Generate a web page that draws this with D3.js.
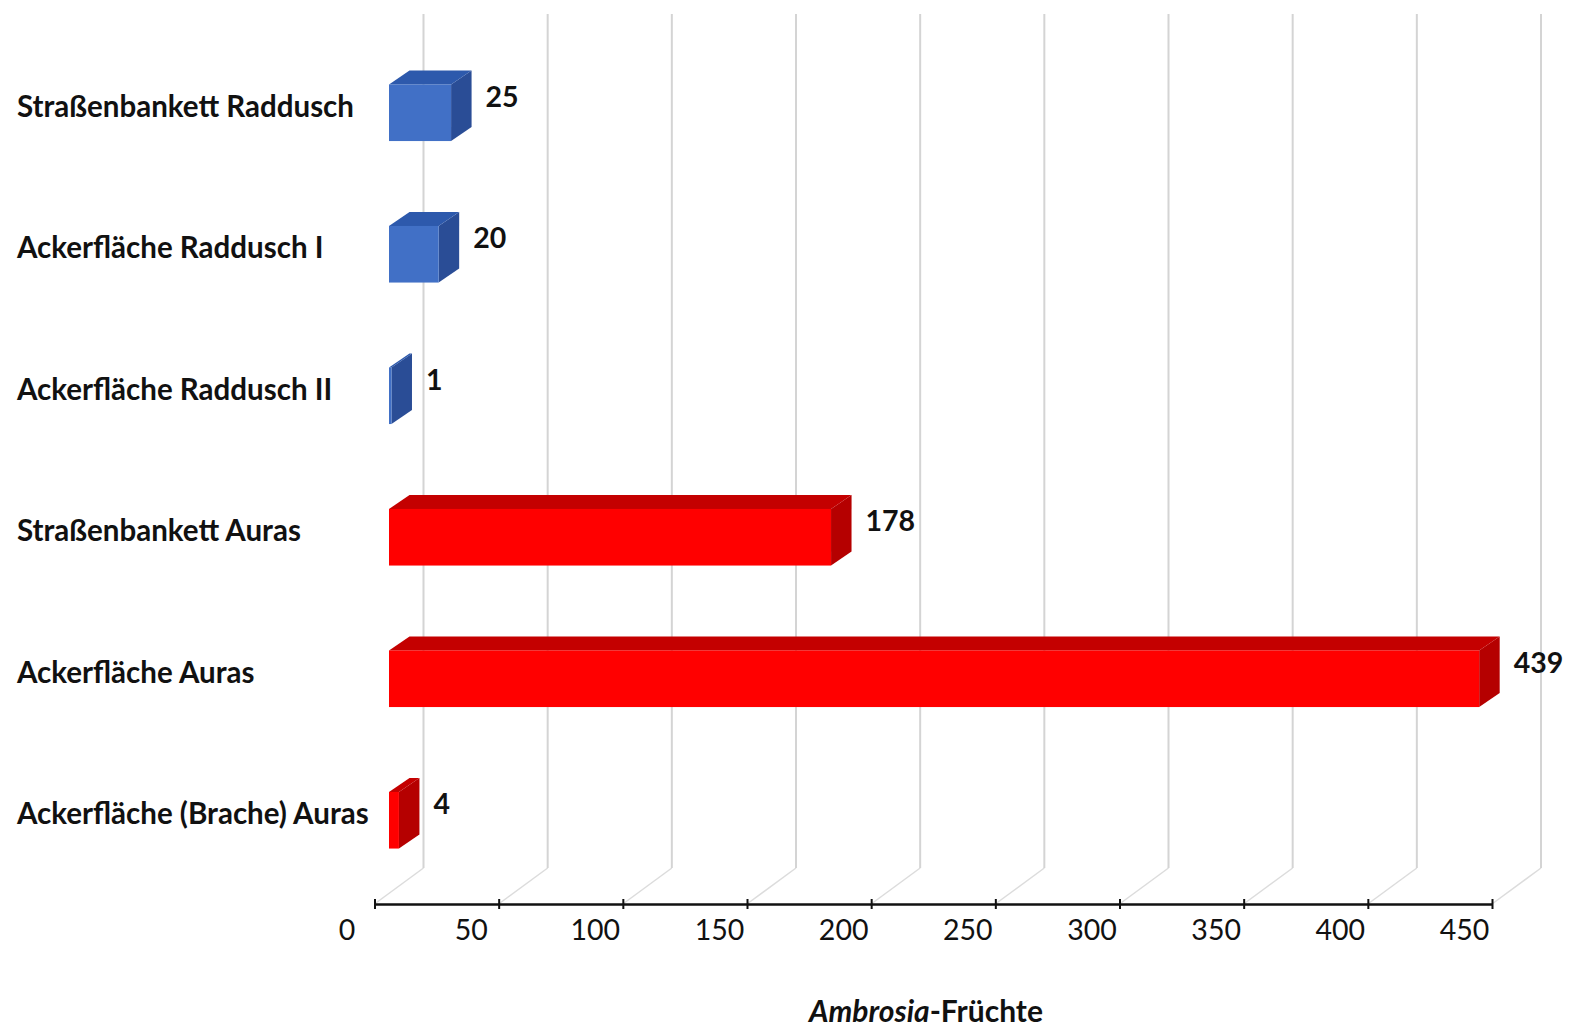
<!DOCTYPE html>
<html>
<head>
<meta charset="utf-8">
<script src="https://cdn.jsdelivr.net/npm/d3@7"></script>
<style>
  html, body { margin: 0; padding: 0; background: #ffffff; }
  svg { display: block; }
  text { font-family: Lato, "Open Sans", sans-serif; fill: #111111; }
</style>
</head>
<body>
<svg id="chart" width="1579" height="1027"></svg>
<script>
// ---- data ----
const categories = [
  "Straßenbankett Raddusch",
  "Ackerfläche Raddusch I",
  "Ackerfläche Raddusch II",
  "Straßenbankett Auras",
  "Ackerfläche Auras",
  "Ackerfläche (Brache) Auras"
];
const values = [25, 20, 1, 178, 439, 4];
const sites = ["Raddusch", "Raddusch", "Raddusch", "Auras", "Auras", "Auras"];
const xTicks = [0, 50, 100, 150, 200, 250, 300, 350, 400, 450];
const axisTitleItalic = "Ambrosia";
const axisTitleRest = "-Früchte";

// ---- styles ----
const faceColors = {
  Raddusch: { front: "#4170C6", top: "#2D59AC", side: "#2A4D96" },
  Auras:    { front: "#FF0000", top: "#C40000", side: "#B50000" }
};

const svg = d3.select("#chart");

// front-plane geometry
const axisY = 904;
const x = d3.scaleLinear().domain([0, 450]).range([374.5, 1492]);
const y = d3.scaleBand().domain(categories).range([52, 901])
  .paddingInner(0.6).paddingOuter(0.3);

// depth vectors
const wall = { dx: 49, dy: -36 };
const barFront = { dx: 14.5, dy: -10 };
const barBack = { dx: 35, dy: -24 };
const wallTop = 14;

// ---- gridlines: floor diagonals + back wall verticals ----
const grid = svg.append("g").attr("class", "grid");
grid.selectAll("path.floor")
  .data(xTicks)
  .join("path")
  .attr("class", "floor")
  .attr("d", d => `M${x(d)},${axisY}L${x(d) + wall.dx},${axisY + wall.dy}`)
  .attr("stroke", "#dcdcdc")
  .attr("stroke-width", 1.5)
  .attr("fill", "none");
grid.selectAll("path.wall")
  .data(xTicks)
  .join("path")
  .attr("class", "wall")
  .attr("d", d => `M${x(d) + wall.dx},${axisY + wall.dy}L${x(d) + wall.dx},${wallTop}`)
  .attr("stroke", "#d4d4d4")
  .attr("stroke-width", 2)
  .attr("fill", "none");

// ---- bars ----
const rows = categories.map((c, i) => ({ cat: c, value: values[i], site: sites[i] }));
const bars = svg.append("g").attr("class", "bars");
const bw = y.bandwidth();

const barG = bars.selectAll("g.bar").data(rows).join("g").attr("class", "bar");

function pt(px, py) { return px + "," + py; }

// side face
barG.append("polygon")
  .attr("points", d => {
    const xr = x(d.value), t = y(d.cat), b = y(d.cat) + bw;
    return [
      pt(xr + barFront.dx, t + barFront.dy),
      pt(xr + barBack.dx, t + barBack.dy),
      pt(xr + barBack.dx, b + barBack.dy),
      pt(xr + barFront.dx, b + barFront.dy)
    ].join(" ");
  })
  .attr("fill", d => faceColors[d.site].side);

// top face
barG.append("polygon")
  .attr("points", d => {
    const xl = x(0), xr = x(d.value), t = y(d.cat);
    return [
      pt(xl + barFront.dx, t + barFront.dy),
      pt(xl + barBack.dx, t + barBack.dy),
      pt(xr + barBack.dx, t + barBack.dy),
      pt(xr + barFront.dx, t + barFront.dy)
    ].join(" ");
  })
  .attr("fill", d => faceColors[d.site].top);

// front face
barG.append("rect")
  .attr("x", x(0) + barFront.dx)
  .attr("y", d => y(d.cat) + barFront.dy)
  .attr("width", d => x(d.value) - x(0))
  .attr("height", bw)
  .attr("fill", d => faceColors[d.site].front);

// value labels
barG.append("text")
  .attr("x", d => x(d.value) + barBack.dx + 14)
  .attr("y", d => y(d.cat) + barFront.dy + bw / 2 - 6)
  .attr("font-size", 28.5)
  .attr("font-weight", "bold")
  .text(d => d.value);

// ---- category labels ----
svg.append("g").attr("class", "cat-labels")
  .selectAll("text")
  .data(categories)
  .join("text")
  .attr("x", 17)
  .attr("y", d => y(d) + barFront.dy + bw / 2 + 4)
  .attr("font-size", 29.5)
  .attr("font-weight", "bold")
  .text(d => d);

// ---- x axis (front) ----
const axisG = svg.append("g").attr("transform", `translate(0,${axisY})`);
const axis = d3.axisBottom(x).tickValues(xTicks).tickSizeInner(6).tickSizeOuter(0).tickPadding(0);
axisG.call(axis);
axisG.select(".domain").attr("stroke", "#111").attr("stroke-width", 2.5);
axisG.selectAll(".tick line").attr("stroke", "#111").attr("stroke-width", 2).attr("y1", -5).attr("y2", 5);
axisG.selectAll(".tick text")
  .attr("x", -28)
  .attr("y", 36)
  .attr("dy", 0)
  .attr("font-family", "Lato, 'Open Sans', sans-serif")
  .attr("font-size", 28.5)
  .attr("fill", "#111111");

// ---- axis title ----
const title = svg.append("text")
  .attr("x", 926)
  .attr("y", 1022)
  .attr("text-anchor", "middle")
  .attr("font-size", 30)
  .attr("font-weight", "bold");
title.append("tspan").attr("font-style", "italic").text(axisTitleItalic);
title.append("tspan").text(axisTitleRest);
</script>
</body>
</html>
